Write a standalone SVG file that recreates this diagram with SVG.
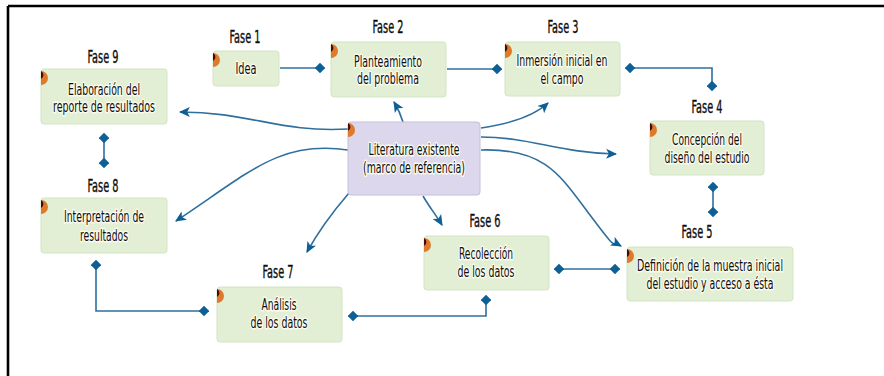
<svg xmlns="http://www.w3.org/2000/svg" width="884" height="376" viewBox="0 0 884 376">
<style>
.box{fill:#e2efd5;stroke:#d3e4c2;stroke-width:1}
.lit{fill:#dcd7ec;stroke:#c6bfdc;stroke-width:1}
.t{font-family:"Liberation Sans Narrow","Arial Narrow","DejaVu Sans Condensed",sans-serif;font-size:15px;fill:#0d0d0d;text-anchor:middle;stroke:#fbfbee;stroke-width:3;stroke-linejoin:round;paint-order:stroke}
.f{font-family:"Liberation Sans Narrow","Arial Narrow","DejaVu Sans Condensed",sans-serif;font-size:17px;fill:#0d0d0d;text-anchor:middle;stroke:#0d0d0d;stroke-width:0.35}
.c{fill:none;stroke:#2f6f9e;stroke-width:1.6}
.o{fill:#dd7a2c}
.d{fill:#4a0808}
</style>
<defs>
<marker id="dm" viewBox="0 0 10 10" refX="5" refY="5" markerWidth="10.5" markerHeight="10.5" markerUnits="userSpaceOnUse" orient="auto">
<path d="M5,0 L10,5 L5,10 L0,5 z" fill="#0d5f95"/>
</marker>
<marker id="ar" viewBox="0 0 10 10" refX="9" refY="5" markerWidth="11" markerHeight="11" markerUnits="userSpaceOnUse" orient="auto">
<path d="M0,0.5 L10,5 L0,9.5 L2.5,5 z" fill="#0d5f95"/>
</marker>
<g id="mk">
<path class="o" d="M0,0 A7,7 0 0 1 0,14 z"/>
<path class="d" d="M0,0 A4.5,4.5 0 0 1 0,8 z"/>
</g>
</defs>

<path d="M8,6 H884 M8,6 V376" fill="none" stroke="#000" stroke-width="2.6"/>

<g id="connectors">
<path class="c" d="M280,68 H320" marker-end="url(#dm)"/>
<path class="c" d="M447,69 H497" marker-end="url(#dm)"/>
<path class="c" d="M630,68 H712 V86" marker-start="url(#dm)" marker-end="url(#dm)"/>
<path class="c" d="M713,187 V212" marker-start="url(#dm)" marker-end="url(#dm)"/>
<path class="c" d="M104,138 V163" marker-start="url(#dm)" marker-end="url(#dm)"/>
<path class="c" d="M96,265 V311 H204" marker-start="url(#dm)" marker-end="url(#dm)"/>
<path class="c" d="M353,316 H486 V300" marker-start="url(#dm)" marker-end="url(#dm)"/>
<path class="c" d="M559,269 H615" marker-start="url(#dm)" marker-end="url(#dm)"/>
<path class="c" d="M403,122 Q400,112 394,102" marker-end="url(#ar)"/>
<path class="c" d="M481,128 C515,123 535,115 548,103" marker-end="url(#ar)"/>
<path class="c" d="M348,129 C280,133 250,112 180,112" marker-end="url(#ar)"/>
<path class="c" d="M348,150 C280,140 250,172 176,221" marker-end="url(#ar)"/>
<path class="c" d="M349,193 C330,215 318,232 307,252" marker-end="url(#ar)"/>
<path class="c" d="M423,196 C430,208 436,215 442,225" marker-end="url(#ar)"/>
<path class="c" d="M481,137 C530,137 560,153 616,154" marker-end="url(#ar)"/>
<path class="c" d="M481,150 C545,148 560,175 590,215 S610,240 621,246" marker-end="url(#ar)"/>
</g>

<g id="fase9">
<text class="f" x="103" y="63" textLength="31" lengthAdjust="spacingAndGlyphs">Fase 9</text>
<rect class="box" x="41" y="69" width="126" height="55" rx="3"/>
<use href="#mk" x="41" y="71"/>
<text class="t" x="104" y="95" textLength="72" lengthAdjust="spacingAndGlyphs">Elaboración del</text>
<text class="t" x="104" y="112" textLength="102" lengthAdjust="spacingAndGlyphs">reporte de resultados</text>
</g>

<g id="fase1">
<text class="f" x="245" y="43" textLength="31" lengthAdjust="spacingAndGlyphs">Fase 1</text>
<rect class="box" x="213" y="51" width="66" height="35" rx="3"/>
<use href="#mk" x="213" y="53"/>
<text class="t" x="246" y="74" textLength="21" lengthAdjust="spacingAndGlyphs">Idea</text>
</g>

<g id="fase2">
<text class="f" x="388" y="33" textLength="31" lengthAdjust="spacingAndGlyphs">Fase 2</text>
<rect class="box" x="331" y="42" width="115" height="55" rx="3"/>
<use href="#mk" x="331" y="44"/>
<text class="t" x="388" y="67" textLength="68" lengthAdjust="spacingAndGlyphs">Planteamiento</text>
<text class="t" x="388" y="84" textLength="62" lengthAdjust="spacingAndGlyphs">del problema</text>
</g>

<g id="fase3">
<text class="f" x="563" y="33" textLength="31" lengthAdjust="spacingAndGlyphs">Fase 3</text>
<rect class="box" x="505" y="42" width="115" height="54" rx="3"/>
<use href="#mk" x="505" y="44"/>
<text class="t" x="562" y="66" textLength="91" lengthAdjust="spacingAndGlyphs">Inmersión inicial en</text>
<text class="t" x="562" y="84" textLength="43" lengthAdjust="spacingAndGlyphs">el campo</text>
</g>

<g id="fase4">
<text class="f" x="707" y="113" textLength="31" lengthAdjust="spacingAndGlyphs">Fase 4</text>
<rect class="box" x="650" y="121" width="114" height="54" rx="3"/>
<use href="#mk" x="650" y="123"/>
<text class="t" x="707" y="145" textLength="70" lengthAdjust="spacingAndGlyphs">Concepción del</text>
<text class="t" x="707" y="163" textLength="85" lengthAdjust="spacingAndGlyphs">diseño del estudio</text>
</g>

<g id="fase5">
<text class="f" x="697" y="238" textLength="31" lengthAdjust="spacingAndGlyphs">Fase 5</text>
<rect class="box" x="627" y="247" width="166" height="54" rx="3"/>
<use href="#mk" x="627" y="249"/>
<text class="t" x="710" y="271" textLength="146" lengthAdjust="spacingAndGlyphs">Definición de la muestra inicial</text>
<text class="t" x="710" y="289" textLength="127" lengthAdjust="spacingAndGlyphs">del estudio y acceso a ésta</text>
</g>

<g id="fase6">
<text class="f" x="485" y="227" textLength="31" lengthAdjust="spacingAndGlyphs">Fase 6</text>
<rect class="box" x="424" y="236" width="125" height="54" rx="3"/>
<use href="#mk" x="424" y="238"/>
<text class="t" x="486" y="259" textLength="54" lengthAdjust="spacingAndGlyphs">Recolección</text>
<text class="t" x="486" y="277" textLength="57" lengthAdjust="spacingAndGlyphs">de los datos</text>
</g>

<g id="fase7">
<text class="f" x="278" y="278" textLength="31" lengthAdjust="spacingAndGlyphs">Fase 7</text>
<rect class="box" x="217" y="287" width="125" height="55" rx="3"/>
<use href="#mk" x="217" y="289"/>
<text class="t" x="279" y="310" textLength="35" lengthAdjust="spacingAndGlyphs">Análisis</text>
<text class="t" x="279" y="328" textLength="57" lengthAdjust="spacingAndGlyphs">de los datos</text>
</g>

<g id="fase8">
<text class="f" x="103" y="192" textLength="31" lengthAdjust="spacingAndGlyphs">Fase 8</text>
<rect class="box" x="41" y="198" width="126" height="55" rx="3"/>
<use href="#mk" x="41" y="200"/>
<text class="t" x="104" y="222" textLength="80" lengthAdjust="spacingAndGlyphs">Interpretación de</text>
<text class="t" x="104" y="241" textLength="48" lengthAdjust="spacingAndGlyphs">resultados</text>
</g>

<g id="literatura">
<rect class="lit" x="348" y="122" width="132" height="73" rx="3"/>
<use href="#mk" x="348" y="123"/>
<text class="t" x="414" y="155" textLength="91" lengthAdjust="spacingAndGlyphs">Literatura existente</text>
<text class="t" x="414" y="173" textLength="102" lengthAdjust="spacingAndGlyphs">(marco de referencia)</text>
</g>
</svg>
